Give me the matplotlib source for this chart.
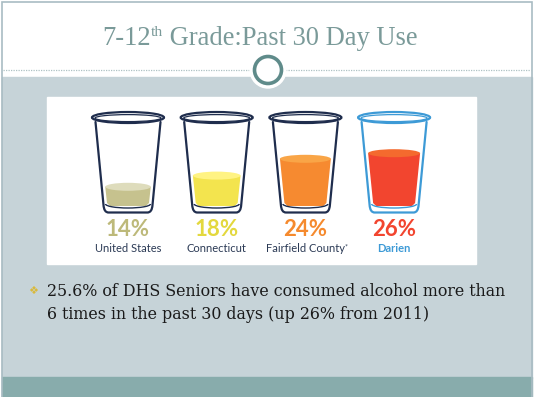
import matplotlib
matplotlib.use("Agg")
import matplotlib.pyplot as plt
from matplotlib.patches import Rectangle, Ellipse, Circle, Polygon, PathPatch, Arc
from matplotlib.path import Path

# ---- data ----
title_main = "7-12"
title_sup = "th"
title_rest = " Grade:Past 30 Day Use"
categories = ["United States", "Connecticut", "Fairfield County", "Darien"]
values = [14, 18, 24, 26]
value_labels = ["14%", "18%", "24%", "26%"]
bullet_lines = ["25.6% of DHS Seniors have consumed alcohol more than",
                "6 times in the past 30 days (up 26% from 2011)"]

# ---- styles ----
pct_colors = ["#BDB97A", "#E3D83E", "#F58A2E", "#F2452F"]
liq_top = ["#DEDCBC", "#FFF383", "#F9A547", "#F46A2E"]
liq_body = ["#C6C28E", "#F3E44E", "#F68A30", "#F2452F"]
glass_edge = ["#1F2D4D", "#1F2D4D", "#1F2D4D", "#3D9AD6"]
label_colors = ["#2B3A55", "#2B3A55", "#2B3A55", "#3D9AD6"]
label_weights = ["normal", "normal", "normal", "bold"]
serif = "DejaVu Serif"
title_serif = "Liberation Serif"

W, H = 535, 397
fig = plt.figure(figsize=(W / 100, H / 100), dpi=100)
ax = fig.add_axes([0, 0, 1, 1])
ax.set_xlim(0, W)
ax.set_ylim(H, 0)
ax.axis("off")

# backgrounds
ax.add_patch(Rectangle((0, 0), W, H, color="white", zorder=0))
ax.add_patch(Rectangle((2, 77), 530, 301, color="#C6D3D8", zorder=1))
ax.add_patch(Rectangle((2, 377), 530, 20, color="#88ACAC", zorder=1))
ax.add_patch(Rectangle((2, 2), 530, 396, fill=False, edgecolor="#A9BCC3", lw=1.2, zorder=2))
ax.plot([3, 531], [70, 70], color="#AFC2C4", lw=0.9, ls=(0, (1, 1)), zorder=2)
ax.add_patch(Circle((268, 70), 18, color="white", zorder=3))
ax.add_patch(Circle((268, 70), 13.5, facecolor="white", edgecolor="#5F8B8A", lw=2.6, zorder=4))

# white panel
ax.add_patch(Rectangle((47, 97), 429, 167, color="white", zorder=2))

fig.canvas.draw()
r = fig.canvas.get_renderer()

# title (fit to reference width)
tfont = dict(family=title_serif, color="#7A9A99", va="baseline", ha="left", zorder=5)
t1 = ax.text(0, 45, title_main, fontsize=18, **tfont)
t2 = ax.text(0, 36.5, title_sup, fontsize=10.5, **tfont)
t3 = ax.text(0, 45, title_rest, fontsize=18, **tfont)
tot = sum(t.get_window_extent(r).width for t in (t1, t2, t3))
scale = 315.0 / tot
for t in (t1, t2, t3):
    t.set_fontsize(t.get_fontsize() * scale)
ws = [t.get_window_extent(r).width for t in (t1, t2, t3)]
x0 = 260 - sum(ws) / 2
t1.set_x(x0)
t2.set_x(x0 + ws[0])
t3.set_x(x0 + ws[0] + ws[1])

# glasses
x_start, x_step = 128.0, 88.7
rim_y, body_top, body_bot, base_y = 117.5, 122.0, 205.0, 212.5
top_hw, bot_hw = 32.5, 24.5


def wall_hw(y):
    return top_hw + (bot_hw - top_hw) * (y - body_top) / (body_bot - body_top)


def level_px(v):
    return (v - 7.5) * 2.8


for i, (cat, v) in enumerate(zip(categories, values)):
    cx = x_start + i * x_step
    ec = glass_edge[i]
    h = level_px(v)
    yt = body_bot - h
    hw_t = wall_hw(yt) - 3.5
    hw_b = wall_hw(body_bot) - 3.5
    verts = [(cx - hw_t, yt), (cx - hw_b, body_bot - 2), (cx - hw_b + 3, body_bot + 1),
             (cx + hw_b - 3, body_bot + 1), (cx + hw_b, body_bot - 2), (cx + hw_t, yt)]
    ax.add_patch(Polygon(verts, closed=True, color=liq_body[i], zorder=5, lw=0))
    ax.add_patch(Ellipse((cx, yt), 2 * hw_t, 8, color=liq_top[i], zorder=6, lw=0))
    codes = [Path.MOVETO, Path.LINETO, Path.CURVE3, Path.CURVE3, Path.LINETO,
             Path.CURVE3, Path.CURVE3, Path.LINETO]
    pv = [(cx - top_hw, body_top), (cx - bot_hw, body_bot),
          (cx - bot_hw + 0.5, base_y), (cx - bot_hw + 5, base_y),
          (cx + bot_hw - 5, base_y),
          (cx + bot_hw - 0.5, base_y), (cx + bot_hw, body_bot),
          (cx + top_hw, body_top)]
    ax.add_patch(PathPatch(Path(pv, codes), fill=False, edgecolor=ec, lw=1.6, zorder=7,
                           capstyle="round", joinstyle="round"))
    ax.add_patch(Arc((cx, body_bot - 1), 2 * bot_hw - 4, 8, theta1=0, theta2=180,
                     edgecolor=ec, lw=1.0, zorder=7))
    ax.add_patch(Ellipse((cx, rim_y), 72, 11, fill=False, edgecolor=ec, lw=1.6, zorder=8))
    ax.add_patch(Ellipse((cx, rim_y + 0.6), 66, 7, fill=False, edgecolor=ec, lw=0.9, zorder=8))
    ax.text(cx, 230, value_labels[i], fontsize=16, fontweight="bold", family=["Lato", "DejaVu Sans"],
            color=pct_colors[i], ha="center", va="center", zorder=9)
    lt = ax.text(cx, 248.5, cat, fontsize=8, fontweight=label_weights[i], family=["Lato", "DejaVu Sans"],
                 color=label_colors[i], ha="center", va="center", zorder=9)
    if cat == "Fairfield County":
        ax.annotate("*", xy=(1, 1), xycoords=lt, fontsize=5, color=label_colors[i],
                    ha="left", va="top", family="Lato", zorder=9)

# bullet
ax.text(33, 291, "\u2756", fontsize=8, color="#D9B93A", ha="center", va="center",
        family="DejaVu Sans", zorder=9)
bl = []
for j, line in enumerate(bullet_lines):
    bl.append(ax.text(47, 292 + j * 22.5, line, fontsize=12, family=serif, color="#1A1A1A",
                      ha="left", va="center", zorder=9))
bscale = 458.0 / bl[0].get_window_extent(r).width
for t in bl:
    t.set_fontsize(t.get_fontsize() * bscale)

fig.savefig("out.png", dpi=100)
